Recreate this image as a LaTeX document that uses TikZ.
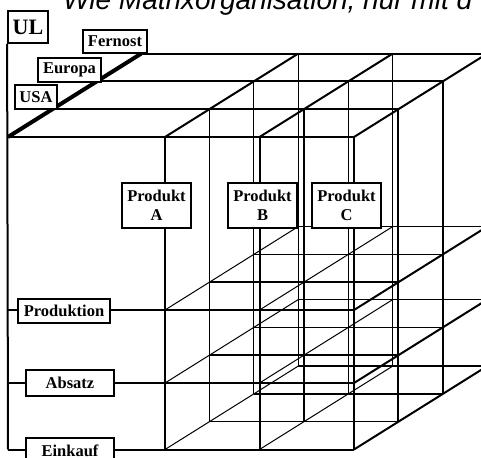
\documentclass[tikz,border=0pt]{standalone}
\usepackage{fontspec}
\setmainfont{Liberation Serif}
\newfontfamily\titlefont{Liberation Sans}
\begin{document}
\begin{tikzpicture}[x=1pt,y=-1pt,
  face/.style={line width=2pt},
  depthline/.style={line width=1.5pt},
  innerline/.style={line width=1.3pt},
  diag/.style={line width=1pt},
  spine/.style={line width=4pt},
  box/.style={draw, fill=white, line width=1.8pt, inner sep=0pt, align=center,
    font=\bfseries\fontsize{16.5}{19.5}\selectfont},
  bigbox/.style={box, font=\bfseries\fontsize{22}{24}\selectfont}]
\useasboundingbox (0,0) rectangle (481,457);

% heading, partly outside the page
\node[anchor=base west, inner sep=0pt, font=\titlefont\itshape\fontsize{28}{32}\selectfont]
  (title) at (63,9.5) {Wie Matrixorganisation, nur mit d};

% lattice points: column (L,A,B,C), level (T,P,S,E), depth 0..3
\def\dx{44.4}
\def\dy{27.8}
\foreach \n/\xx in {L/8,A/165,B/259.5,C/354}
  \foreach \m/\yy in {T/137,P/310,S/383,E/449.5}
    \foreach \d in {0,1,2,3}
      \coordinate (\n\m\d) at ({\xx+\d*\dx},{\yy-\d*\dy});

% inner verticals of columns A and B behind the front face
\foreach \n in {A,B}
  \foreach \d in {1,2,3}
    \draw[innerline] (\n T\d) -- (\n E\d);

% function levels: horizontals in depth and diagonals
\foreach \m in {P,S,E} {
  \foreach \d in {1,2,3}
    \draw[depthline] (A\m\d) -- (C\m\d);
  \foreach \n in {A,B}
    \draw[diag] (\n\m0) -- (\n\m3);
  \draw[face] (C\m0) -- (C\m3);
  \draw[face] (L\m0) -- (C\m0);
}

% right face verticals
\foreach \d in {1,2,3}
  \draw[face] (CT\d) -- (CE\d);

% front face verticals
\foreach \n in {A,B,C}
  \draw[face] (\n T0) -- (\n E0);

% top face
\foreach \d in {0,1,2,3}
  \draw[face] (LT\d) -- (CT\d);
\foreach \n in {A,B,C}
  \draw[face] (\n T0) -- (\n T3);
\draw[spine] (LT0) -- (LT3);

% management line
\node[bigbox, minimum width=40, minimum height=32] (ul) at (28,27) {UL};
\draw[face] (ul.south west) -- (LE0);

% regions
\node[box, minimum width=64, minimum height=23] (fernost) at (115,41.5) {Fernost};
\node[box, minimum width=63, minimum height=24] (europa) at (69.5,70) {Europa};
\node[box, minimum width=42, minimum height=24] (usa) at (36,97) {USA};

% products
\node[box, minimum width=69, minimum height=45] (pa) at (156.5,205.5) {Produkt\\A};
\node[box, minimum width=69, minimum height=45] (pb) at (262.5,205.5) {Produkt\\B};
\node[box, minimum width=69, minimum height=45] (pc) at (346.5,205.5) {Produkt\\C};

% functions
\node[box, minimum width=92, minimum height=24] (produktion) at (64,311) {Produktion};
\node[box, minimum width=88, minimum height=26] (absatz) at (70,383) {Absatz};
\node[box, minimum width=88, minimum height=26] (einkauf) at (70,451) {Einkauf};
\end{tikzpicture}
\end{document}
